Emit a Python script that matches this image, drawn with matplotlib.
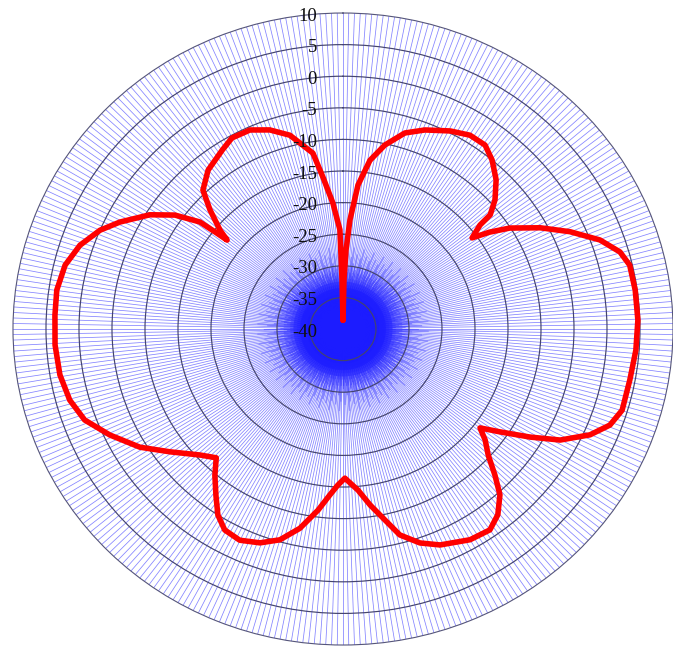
import numpy as np
import matplotlib
matplotlib.use("Agg")
import matplotlib.pyplot as plt
from matplotlib.transforms import offset_copy
from matplotlib.collections import LineCollection

# Radiation pattern (angle clockwise from north, degrees) and level (dB)
angle_deg = [0, 1.1, 2.1, 3.5, 5.7, 8.7, 12.3, 16.8, 21.5, 27.4, 32.1, 36.5, 40.2,
             44.5, 48.4, 51.0, 51.6, 53.6,
             55.4, 57.7, 61.8, 65.9, 70.1, 73.8, 76.9, 82.1, 88.2, 94.3, 100.5,
             106.9, 110.6, 114.1, 118.1, 121.1, 124.4, 127.0,
             129.2, 132.2, 135.1, 137.8, 141.4, 145.0, 150.0, 156.7, 161.0, 165.2,
             168.1, 171.6, 174.9, 179.3,
             181.8, 184.3, 187.5, 191.7, 196.0, 200.4, 205.1, 209.4, 212.8, 216.2,
             220.0, 223.3,
             227.4, 233.4, 238.7, 244.6, 249.8, 254.8, 260.4, 266.7, 272.9, 278.1,
             283.5, 288.4, 293.0, 296.6, 301.7, 305.3, 308.0, 308.4, 308.7,
             310.0, 313.1, 316.0, 320.9, 327.1, 330.9, 335.9, 340.6, 345.3, 350.7,
             352.8, 355.6, 358.3, 358.9, 360.0]
level_db = [-38.6, -32.2, -27.5, -22.7, -17.1, -13.0, -10.2, -7.6, -6.15, -4.7, -3.8,
            -3.8, -5.0, -6.9, -9.2, -11.3, -13.5, -15.7,
            -13.0, -10.1, -6.1, -2.3, 1.4, 3.7, 4.6, 4.7, 4.7, 4.5, 4.2,
            4.2, 3.2, 1.0, -2.7, -6.9, -11.2, -14.0,
            -12.2, -10.3, -7.4, -4.6, -2.4, -1.2, -1.5, -2.8, -4.2, -6.3,
            -9.1, -11.85, -14.4, -16.4,
            -15.3, -13.7, -11.1, -7.8, -5.3, -3.9, -3.1, -3.5, -5.0, -7.4,
            -9.8, -12.0,
            -10.55, -7.4, -4.0, -0.9, 1.7, 2.9, 3.5, 3.7, 3.7, 3.8,
            3.3, 2.0, 0.0, -2.2, -5.6, -8.8, -12.5, -15.3, -17.5,
            -15.7, -12.4, -9.45, -7.6, -6.3, -5.4, -5.5, -6.6, -8.3, -11.8,
            -15.8, -20.0, -24.3, -32.2, -38.6]

r_ticks = [10, 5, 0, -5, -10, -15, -20, -25, -30, -35, -40]
r_tick_labels = ["10", "5", "0", "-5", "-10", "-15", "-20", "-25", "-30", "-35", "-40"]

fig = plt.figure(figsize=(6.73, 6.51), dpi=100)
ax = fig.add_axes([0.0193, 0.0092, 0.9807, 0.9708], projection="polar")
ax.set_aspect("auto")
ax.set_theta_zero_location("N")
ax.set_theta_direction(-1)
ax.set_rlim(-40, 10)

ax.set_thetagrids(np.arange(0, 360, 1), labels=[])
ax.set_rgrids([-35, -30, -25, -20, -15, -10, -5, 0, 5], labels=[])
ax.xaxis.grid(True, color="#1e1eff", linewidth=0.55, alpha=0.55)
ax.yaxis.grid(True, color="#44446e", linewidth=0.85)
ax.set_axisbelow(True)
ax.spines["polar"].set_color("#55557a")
ax.spines["polar"].set_linewidth(0.8)
ax.tick_params(length=0)

# extra interleaved spokes of staggered length: the saturated blue core
def core_spokes(step, offset, ends):
    angs = np.arange(offset, 360, step)
    segs = [[(np.deg2rad(a), -40), (np.deg2rad(a), ends[i % len(ends)])]
            for i, a in enumerate(angs)]
    ax.add_collection(LineCollection(segs, colors="#1a1aff", linewidths=0.55,
                                     alpha=0.5, zorder=0.5))

core_spokes(1.0, 0.5, [-27.0, -29.5, -31.5, -28.0, -30.5, -32.5, -28.5])
core_spokes(0.5, 0.25, [-30.0, -32.0, -33.5, -31.0, -33.0])
core_spokes(0.25, 0.125, [-32.5, -34.5, -36.0, -33.5, -35.0])

th = np.deg2rad(np.array(angle_deg))
ax.plot(th, np.array(level_db), color="#ff0000", linewidth=4.0, zorder=5,
        solid_joinstyle="round", solid_capstyle="round")

tr = offset_copy(ax.transData, fig=fig, x=-26, y=-3, units="dots")
for r, lab in zip(r_ticks, r_tick_labels):
    ax.text(0, r, lab, transform=tr, ha="right", va="center",
            fontsize=13.5, family="Liberation Serif", color="#111111", zorder=6)

fig.savefig("out.png", dpi=100)
